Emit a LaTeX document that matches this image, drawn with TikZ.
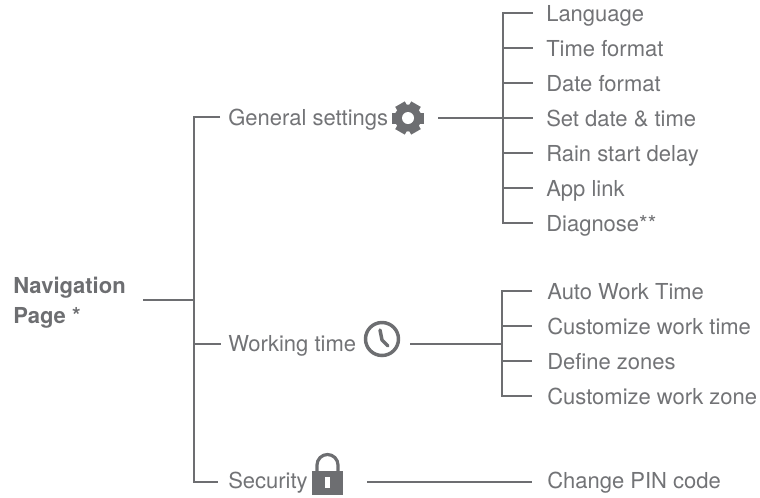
\documentclass[tikz,border=0pt]{standalone}
\usepackage{fontspec}
\setmainfont{TeX Gyre Heros}
\usetikzlibrary{calc}
\definecolor{gr}{HTML}{6D6E71}
\definecolor{tx}{HTML}{727376}
\begin{document}
\begin{tikzpicture}[x=0.75pt,y=-0.75pt,
  ln/.style={draw=gr,line width=2pt,line join=miter},
  item/.style={anchor=base west,inner sep=0pt,text=tx,font=\fontsize{16.5}{20}\selectfont},
  navtext/.style={anchor=base west,inner sep=0pt,text=gr,align=left,font=\bfseries\fontsize{16.5}{22.5}\selectfont}]
\useasboundingbox (0,0) rectangle (760,497);

% ---- root ----
\node[navtext] (nav) at (13,323) {Navigation\\Page *};
\coordinate (navE) at (143,300);
\coordinate (jnav) at (194,300);
\coordinate (jtop) at (194,117);
\coordinate (jwork) at (194,344);
\coordinate (jbot) at (194,482);
\coordinate (gsT) at (220,117);
\coordinate (wtT) at (221,344);
\coordinate (seT) at (218,482);
\draw[ln] (gsT) -- (jtop) -- (jbot) -- (seT);
\draw[ln] (navE) -- (jnav);
\draw[ln] (jwork) -- (wtT);

% ---- level 1 labels ----
\node[item] (gs) at (228,125) {General settings};
\node[item] (wt) at (228,351) {Working time};
\node[item] (se) at (228,488) {Security};

% gear icon
\coordinate (gear) at (408,118);
\fill[gr] (gear) circle[radius=13.5];
\foreach \a in {0,60,...,300}
  \fill[gr,rotate around={\a:(gear)}] ($(gear)+(10,-5.5)$) rectangle ($(gear)+(16,5.5)$);
\fill[white] (gear) circle[radius=6];

% clock icon
\coordinate (clock) at (382,339);
\draw[gr,line width=2.6pt] (clock) circle[radius=16.5];
\draw[gr,line width=2.6pt,line cap=round,line join=round]
  ($(clock)+(-2,-9)$) -- ($(clock)+(0,1)$) -- ($(clock)+(6,7)$);

% lock icon
\draw[gr,line width=2.4pt] (317,472) -- (317,465) arc[start angle=180,end angle=360,radius=10.5] -- (338,472);
\fill[gr] (312,471) rectangle (343,495);
\fill[white] (325,477) rectangle (330,488);

% ---- connectors to subtrees ----
\coordinate (gsR) at (438,118);
\coordinate (gV) at (503,118);
\draw[ln] (gsR) -- (gV);
\coordinate (wtR) at (410,344);
\coordinate (wV) at (502,344);
\draw[ln] (wtR) -- (wV);
\coordinate (seR) at (367,482);
\coordinate (pinL) at (532,482);
\draw[ln] (seR) -- (pinL);
\node[item] (pin) at (547,488) {Change PIN code};

% ---- General settings subtree ----
\foreach \t [count=\i from 0] in {Language,Time format,Date format,Set date \& time,Rain start delay,App link,Diagnose**}{
  \coordinate (gv\i) at (503,{13+35*\i});
  \coordinate (gt\i) at (533,{13+35*\i});
  \node[item] (gl\i) at (546,{21+35*\i}) {\t};
}
\draw[ln] (gt0) -- (gv0) -- (gv6) -- (gt6);
\foreach \i in {1,...,5} \draw[ln] (gv\i) -- (gt\i);

% ---- Working time subtree ----
\foreach \t [count=\i from 0] in {Auto Work Time,Customize work time,Define zones,Customize work zone}{
  \coordinate (wv\i) at (502,{291+35*\i});
  \coordinate (wt\i) at (532,{291+35*\i});
  \node[item] (wl\i) at (547,{299+35*\i}) {\t};
}
\draw[ln] (wt0) -- (wv0) -- (wv3) -- (wt3);
\foreach \i in {1,2} \draw[ln] (wv\i) -- (wt\i);
\end{tikzpicture}
\end{document}
